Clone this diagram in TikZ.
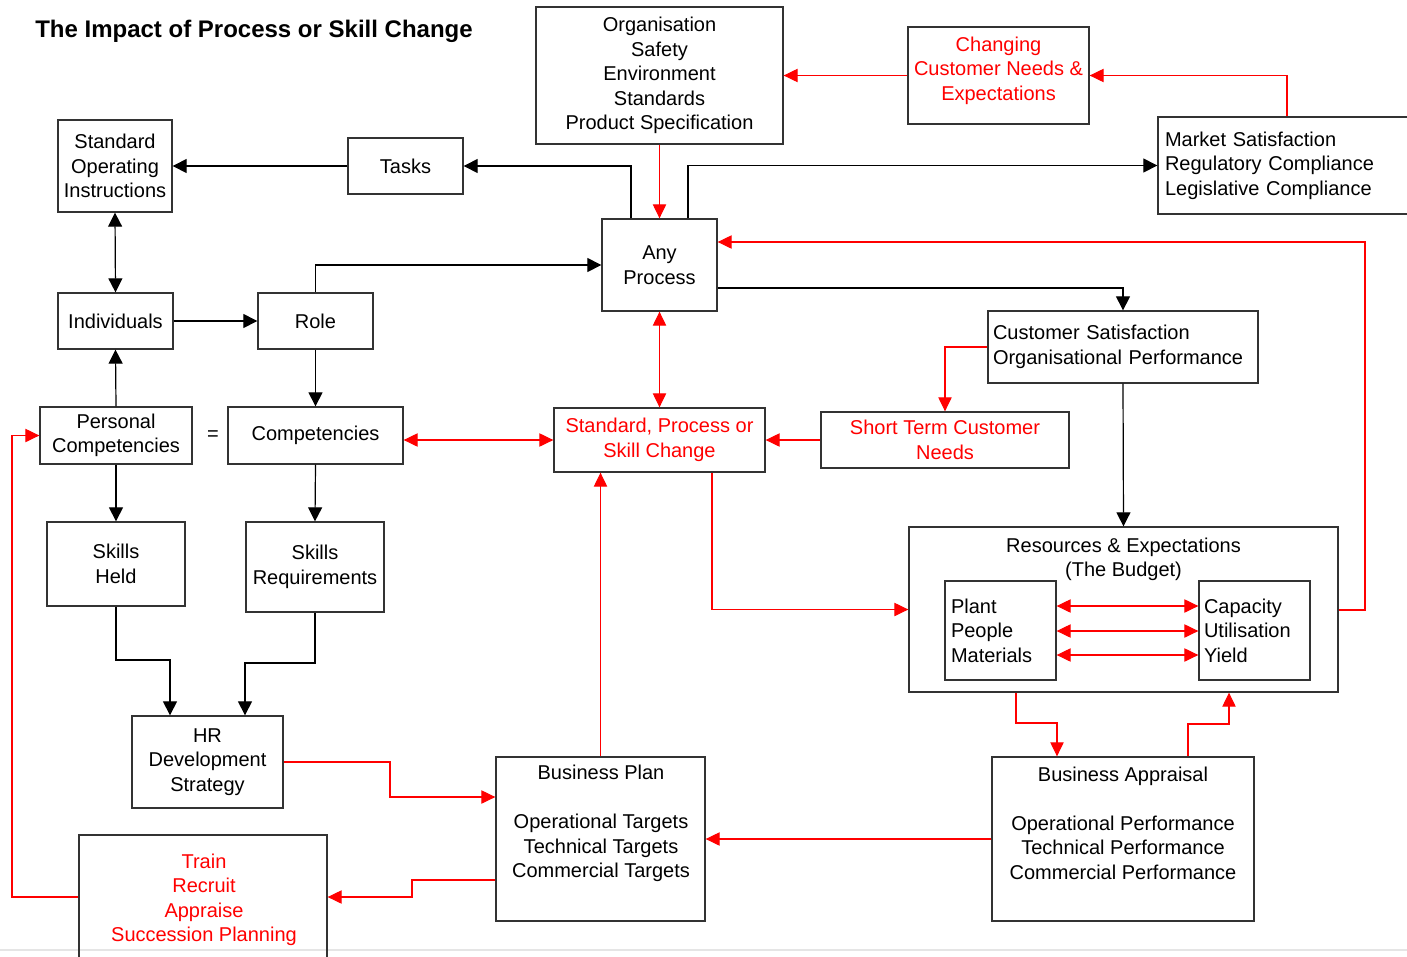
\documentclass[tikz,border=0pt]{standalone}
\usepackage{fontspec}
\setmainfont{Liberation Sans}
\usetikzlibrary{arrows.meta}
\begin{document}
\begin{tikzpicture}[x=0.75pt,y=-0.75pt,
  every node/.style={font=\fontsize{15}{18.4}\selectfont, inner sep=0pt},
  box/.style={draw=black!80, line width=1pt, inner sep=0pt, align=center},
  sz/.style 2 args={minimum width=#1*0.75pt, minimum height=#2*0.75pt},
  lbox/.style={box, align=left},
  rtxt/.style={text=red},
  bk/.style={draw=black, line width=0.9pt, -{Triangle[length=10.5pt,width=10.5pt]}},
  bkb/.style={draw=black, line width=0.9pt, {Triangle[length=10.5pt,width=10.5pt]}-{Triangle[length=10.5pt,width=10.5pt]}},
  rd/.style={draw=red, line width=0.8pt, -{Triangle[length=10.5pt,width=10pt]}},
  rdb/.style={draw=red, line width=0.8pt, {Triangle[length=10.5pt,width=10pt]}-{Triangle[length=10.5pt,width=10pt]}}
]
\useasboundingbox (0,0) rectangle (1407,957);
\clip (0,0) rectangle (1407,957);

% helper coordinates
\foreach \v in {12,170,245,390,412,631,688,712,1016,1057,1188,1229,1287,1365} {\coordinate (v\v) at (\v,0);}
\foreach \h in {242,288,440,606,610,631,655,660,663,723,724,797,880,897} {\coordinate (h\h) at (0,\h);}

% faint bottom line
\draw[black!10, line width=1.5pt] (0,950) -- (1407,950);

% title
\node[anchor=base west, font=\fontsize{18}{21}\selectfont\bfseries] (title) at (35,37) {The Impact of Process or Skill Change};

% boxes
\node[box, sz={247}{137}] (org) at (659.5,75.5) {Organisation\\Safety\\Environment\\Standards\\Product Specification};
\node[box, sz={181}{97}] (chg) at (998.5,75.5) {};
\node[rtxt, align=center] (chgtxt) at (998.5,70.5) {Changing\\Customer Needs \&\\Expectations};
\node[lbox, sz={262}{97}, text width=186pt] (mkt) at (1289,165.5) {Market Satisfaction\\Regulatory Compliance\\Legislative Compliance};
\node[box, sz={114}{92}] (soi) at (115,166) {Standard\\Operating\\Instructions};
\node[box, sz={115}{56}] (tasks) at (405.5,166) {Tasks};
\node[box, sz={115}{92}] (ap) at (659.5,265) {Any\\Process};
\node[box, sz={115}{56}] (ind) at (115.5,321) {Individuals};
\node[box, sz={115}{56}] (role) at (315.5,321) {Role};
\node[box, sz={152}{57}] (pc) at (116,435.5) {Personal\\Competencies};
\node (eq) at (213,436) {=};
\node[box, sz={175}{57}] (comp) at (315.5,435.5) {Competencies};
\node[box, sz={138}{84}] (sh) at (116,564) {Skills\\Held};
\node[box, sz={138}{90}] (sr) at (315,567) {Skills\\Requirements};
\node[box, rtxt, sz={211}{64}] (spc) at (659.5,440) {Standard, Process or\\Skill Change};
\node[box, rtxt, sz={248}{56}] (stn) at (945,440) {Short Term Customer\\Needs};
\node[lbox, sz={270}{72}, text width=195pt] (cs) at (1123,347) {Customer Satisfaction\\Organisational Performance};
\node[box, sz={429}{165}] (res) at (1123.5,609.5) {};
\node[align=center] (restxt) at (1123.5,559.5) {Resources \& Expectations\\(The Budget)};
\node[lbox, sz={111}{99}, text width=74.25pt] (plant) at (1000.5,630.5) {Plant\\People\\Materials};
\node[lbox, sz={111}{99}, text width=75.75pt] (cap) at (1254.5,630.5) {Capacity\\Utilisation\\Yield};
\node[box, sz={151}{92}] (hr) at (207.5,762) {HR\\Development\\Strategy};
\node[box, sz={248}{165}] (tr) at (203,917.5) {};
\node[rtxt, align=center] (trtxt) at (204,900) {Train\\Recruit\\Appraise\\Succession Planning};
\node[box, sz={209}{164}] (bp) at (600.5,839) {};
\node[align=center] (bptxt) at (601,823.5) {Business Plan\\[18.4pt]Operational Targets\\Technical Targets\\Commercial Targets};
\node[box, sz={262}{164}] (ba) at (1123,839) {};
\node[align=center] (batxt) at (1123,823) {Business Appraisal\\[18.4pt]Operational Performance\\Technical Performance\\Commercial Performance};

% black connectors
\draw[bk] (tasks.west) -- (soi.east);
\draw[bk] (ap.north -| v631) |- (tasks.east);
\draw[bk] (ap.north -| v688) |- (mkt.west);
\draw[bkb] (soi.south) -- (ind.north);
\draw[bk] (ind.east) -- (role.west);
\draw[bk] (role.north) |- (ap.west);
\draw[bk] (role.south) -- (comp.north);
\draw[bk] (pc.north) -- (ind.south);
\draw[bk] (pc.south) -- (sh.north);
\draw[bk] (comp.south) -- (sr.north);
\draw[bk] (sh.south) -- (sh.south |- h660) -| (hr.north -| v170);
\draw[bk] (sr.south) -- (sr.south |- h663) -| (hr.north -| v245);
\draw[bk] (ap.east |- h288) -| (cs.north);
\draw[bk] (cs.south) -- (res.north);

% red connectors
\draw[rd] (chg.west) -- (org.east);
\draw[rd] (mkt.north -| v1287) |- (chg.east);
\draw[rd] (org.south) -- (ap.north);
\draw[rdb] (ap.south) -- (spc.north);
\draw[rd] (res.east |- h610) -- (v1365 |- h610) -- (v1365 |- h242) -- (ap.east |- h242);
\draw[rd] (cs.west) -| (stn.north);
\draw[rd] (stn.west) -- (spc.east);
\draw[rdb] (comp.east |- h440) -- (spc.west |- h440);
\draw[rd] (spc.south -| v712) |- (res.west);
\draw[rd] (bp.north) -- (bp.north |- spc.south);
\draw[rd] (hr.east) -- (v390 |- hr.east) |- (bp.west |- h797);
\draw[rd] (bp.west |- h880) -- (v412 |- h880) |- (tr.east |- h897);
\draw[rd] (tr.west |- h897) -- (v12 |- h897) |- (pc.west);
\draw[rd] (ba.west) -- (bp.east);
\draw[rd] (res.south -| v1016) -- (v1016 |- h723) -| (ba.north -| v1057);
\draw[rd] (ba.north -| v1188) -- (v1188 |- h724) -| (res.south -| v1229);
\draw[rdb] (plant.east |- h606) -- (cap.west |- h606);
\draw[rdb] (plant.east |- h631) -- (cap.west |- h631);
\draw[rdb] (plant.east |- h655) -- (cap.west |- h655);
\end{tikzpicture}
\end{document}
